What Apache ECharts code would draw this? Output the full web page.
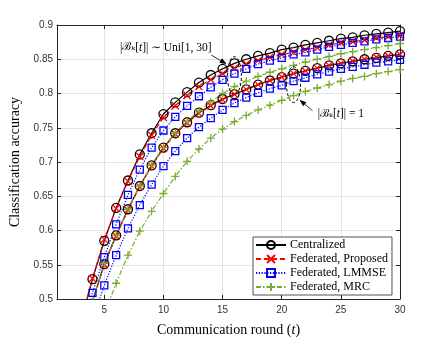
<!DOCTYPE html>
<html>
<head>
<meta charset="utf-8">
<script src="https://cdn.jsdelivr.net/npm/echarts@6/dist/echarts.min.js"></script>
<style>
  html, body { margin: 0; padding: 0; background: #fff; }
  #chart { width: 442px; height: 342px; }
</style>
</head>
<body>
<div id="chart"></div>
<script>
// communication rounds t
const rounds = [1, 2, 3, 4, 5, 6, 7, 8, 9, 10, 11, 12, 13, 14, 15, 16, 17, 18, 19, 20, 21, 22, 23, 24, 25, 26, 27, 28, 29, 30];
const xTicks = [5, 10, 15, 20, 25, 30];

// |B_k[t]| ~ Uni[1,30]
const centralUni = [null, null, 0.465, 0.529, 0.585, 0.633, 0.673, 0.711, 0.742, 0.770, 0.787, 0.802, 0.816, 0.827, 0.836, 0.844, 0.850, 0.855, 0.859, 0.864, 0.867, 0.871, 0.874, 0.877, 0.880, 0.882, 0.885, 0.887, 0.889, 0.891];
const proposedUni = [null, null, 0.468, 0.530, 0.587, 0.632, 0.672, 0.708, 0.739, 0.765, 0.782, 0.797, 0.810, 0.820, 0.829, 0.837, 0.843, 0.848, 0.853, 0.857, 0.860, 0.864, 0.867, 0.871, 0.874, 0.876, 0.878, 0.881, 0.883, 0.885];
const lmmseUni = [null, null, 0.452, 0.509, 0.561, 0.609, 0.652, 0.689, 0.721, 0.746, 0.766, 0.782, 0.796, 0.809, 0.820, 0.829, 0.836, 0.843, 0.848, 0.852, 0.857, 0.860, 0.864, 0.868, 0.871, 0.874, 0.876, 0.879, 0.881, 0.883];
const mrcUni = [null, null, null, 0.497, 0.552, 0.593, 0.631, 0.665, 0.695, 0.721, 0.742, 0.759, 0.775, 0.788, 0.800, 0.810, 0.818, 0.825, 0.831, 0.836, 0.841, 0.846, 0.850, 0.854, 0.858, 0.861, 0.864, 0.867, 0.870, 0.873];

// |B_k[t]| = 1
const centralOne = [null, null, null, 0.497, 0.551, 0.593, 0.631, 0.665, 0.695, 0.721, 0.742, 0.758, 0.772, 0.783, 0.792, 0.799, 0.806, 0.813, 0.819, 0.824, 0.829, 0.833, 0.837, 0.841, 0.844, 0.847, 0.850, 0.852, 0.855, 0.857];
const proposedOne = [null, null, null, 0.496, 0.550, 0.592, 0.630, 0.664, 0.694, 0.720, 0.741, 0.757, 0.771, 0.782, 0.791, 0.799, 0.806, 0.813, 0.819, 0.824, 0.829, 0.833, 0.837, 0.841, 0.844, 0.847, 0.850, 0.853, 0.855, 0.857];
const lmmseOne = [null, null, null, 0.470, 0.520, 0.564, 0.603, 0.637, 0.667, 0.694, 0.716, 0.735, 0.751, 0.764, 0.776, 0.786, 0.794, 0.801, 0.807, 0.812, 0.818, 0.823, 0.828, 0.832, 0.836, 0.839, 0.842, 0.845, 0.847, 0.849];
const mrcOne = [null, null, null, null, 0.478, 0.523, 0.564, 0.599, 0.628, 0.654, 0.679, 0.701, 0.719, 0.735, 0.748, 0.759, 0.768, 0.776, 0.783, 0.790, 0.797, 0.803, 0.808, 0.813, 0.818, 0.822, 0.825, 0.829, 0.832, 0.835];

const legendNames = ['Centralized', 'Federated, Proposed', 'Federated, LMMSE', 'Federated, MRC'];

const serif = '"Liberation Serif", "DejaVu Serif", serif';
const axisColor = '#262626';

const looks = {
  'Centralized': { color: '#000000', type: 'solid', symbol: 'circle', size: 9 },
  'Federated, Proposed': { color: '#ff0000', type: [5, 3], symbol: 'path://M0,0L10,10M10,0L0,10', size: 7 },
  'Federated, LMMSE': { color: '#0000ff', type: [1.2, 1.6], symbol: 'rect', size: 7 },
  'Federated, MRC': { color: '#77ac30', type: [5, 2, 1.5, 2], symbol: 'path://M5,0L5,10M0,5L10,5', size: 8 }
};

function makeSeries(name, values) {
  const lk = looks[name];
  const data = [];
  rounds.forEach((t, i) => { if (values[i] != null) data.push([t, values[i]]); });
  return {
    name: name,
    type: 'line',
    data: data,
    showAllSymbol: true,
    symbol: lk.symbol,
    symbolSize: lk.size,
    clip: true,
    lineStyle: { color: lk.color, width: 1.2, type: lk.type },
    itemStyle: { color: 'rgba(0,0,0,0)', borderColor: lk.color, borderWidth: 1.3 },
    emphasis: { disabled: true }
  };
}

const series = [
  makeSeries('Centralized', centralUni),
  makeSeries('Centralized', centralOne),
  makeSeries('Federated, Proposed', proposedUni),
  makeSeries('Federated, Proposed', proposedOne),
  makeSeries('Federated, LMMSE', lmmseUni),
  makeSeries('Federated, LMMSE', lmmseOne),
  makeSeries('Federated, MRC', mrcUni),
  makeSeries('Federated, MRC', mrcOne)
];

const frameAxis = {
  axisLine: { show: true, lineStyle: { color: axisColor, width: 1 } },
  axisTick: { show: true, inside: true, length: 4, lineStyle: { color: axisColor } },
  axisLabel: { show: false },
  splitLine: { show: false }
};

const option = {
  animation: false,
  backgroundColor: '#fff',
  grid: { left: 57, top: 25, width: 343, height: 279, containLabel: false },
  xAxis: [
    {
      type: 'value', min: 1, max: 30, position: 'bottom',
      name: 'Communication round ({i|t})',
      nameLocation: 'middle', nameGap: 24,
      nameTextStyle: {
        fontFamily: serif, fontSize: 14, color: '#000',
        rich: { i: { fontFamily: serif, fontSize: 14, fontStyle: 'italic', color: '#000' } }
      },
      axisLine: { show: true, lineStyle: { color: axisColor, width: 1 } },
      axisTick: { show: true, inside: true, length: 4, lineStyle: { color: axisColor }, customValues: xTicks },
      axisLabel: { color: '#333', fontSize: 10, fontFamily: 'Liberation Sans, Arial, sans-serif', margin: 6, customValues: xTicks },
      splitLine: { show: true, lineStyle: { color: '#e3e3e3', width: 1 } }
    },
    Object.assign({}, frameAxis, {
      type: 'value', min: 1, max: 30, position: 'top',
      axisTick: { show: true, inside: true, length: 4, lineStyle: { color: axisColor }, customValues: xTicks }
    })
  ],
  yAxis: [
    {
      type: 'value', min: 0.5, max: 0.9, interval: 0.05, position: 'left',
      name: 'Classification accuracy',
      nameLocation: 'middle', nameGap: 34,
      nameTextStyle: { fontFamily: serif, fontSize: 14, color: '#000' },
      axisLine: { show: true, lineStyle: { color: axisColor, width: 1 } },
      axisTick: { show: true, inside: true, length: 4, lineStyle: { color: axisColor } },
      axisLabel: { color: '#333', fontSize: 10, fontFamily: 'Liberation Sans, Arial, sans-serif', margin: 4 },
      splitLine: { show: true, lineStyle: { color: '#e3e3e3', width: 1 } }
    },
    Object.assign({}, frameAxis, {
      type: 'value', min: 0.5, max: 0.9, interval: 0.05, position: 'right'
    })
  ],
  legend: {
    data: legendNames,
    orient: 'vertical',
    left: 253, top: 237,
    padding: [1, 4, 1, 2],
    itemWidth: 30, itemHeight: 10, itemGap: 0,
    selectedMode: false,
    backgroundColor: '#fff',
    borderColor: axisColor, borderWidth: 0.8, borderRadius: 0,
    textStyle: { fontFamily: serif, fontSize: 12, color: '#000', lineHeight: 14, padding: [0, 0, 0, -1] }
  },
  series: series
};

const chart = echarts.init(document.getElementById('chart'));
chart.setOption(option);

// annotations placed in data coordinates
const toPx = p => chart.convertToPixel({ gridIndex: 0 }, p);

function ring(center, rx, ry) {
  const c = toPx(center);
  return { type: 'ellipse', silent: true, z: 100, shape: { cx: c[0], cy: c[1], rx: rx, ry: ry },
    style: { stroke: '#000', fill: 'none', lineWidth: 1, lineDash: [3, 2] } };
}

function arrow(from, to) {
  const a = toPx(from), b = toPx(to);
  const dx = b[0] - a[0], dy = b[1] - a[1];
  const len = Math.sqrt(dx * dx + dy * dy);
  const ux = dx / len, uy = dy / len;
  const bx = b[0] - ux * 7, by = b[1] - uy * 7;
  return [
    { type: 'line', silent: true, z: 100, shape: { x1: a[0], y1: a[1], x2: bx, y2: by },
      style: { stroke: '#000', lineWidth: 0.8 } },
    { type: 'polygon', silent: true, z: 100,
      shape: { points: [[b[0], b[1]], [bx - uy * 2.6, by + ux * 2.6], [bx + uy * 2.6, by - ux * 2.6]] },
      style: { fill: '#000' } }
  ];
}

function label(at, text) {
  const p = toPx(at);
  return { type: 'text', silent: true, z: 100, x: p[0], y: p[1],
    style: {
      text: text, fill: '#000', fontFamily: serif, fontSize: 11.5,
      align: 'center', verticalAlign: 'middle',
      rich: {
        i: { fontFamily: serif, fontSize: 11.5, fontStyle: 'italic' },
        c: { fontFamily: '"DejaVu Serif", serif', fontSize: 11 },
        s: { fontFamily: '"DejaVu Serif", serif', fontSize: 11 }
      }
    } };
}

const graphics = [].concat(
  ring([16, 0.826], 7, 19),
  ring([21, 0.813], 7, 18),
  arrow([14.05, 0.856], [15.35, 0.843]),
  arrow([22.6, 0.775], [21.5, 0.791]),
  label([10.2, 0.867], '|{c|ℬ}{s|ₖ}[{i|t}]| ∼ Uni[1, 30]'),
  label([25.0, 0.770], '|{c|ℬ}{s|ₖ}[{i|t}]| = 1')
);

chart.setOption({ graphic: graphics });
</script>
</body>
</html>
